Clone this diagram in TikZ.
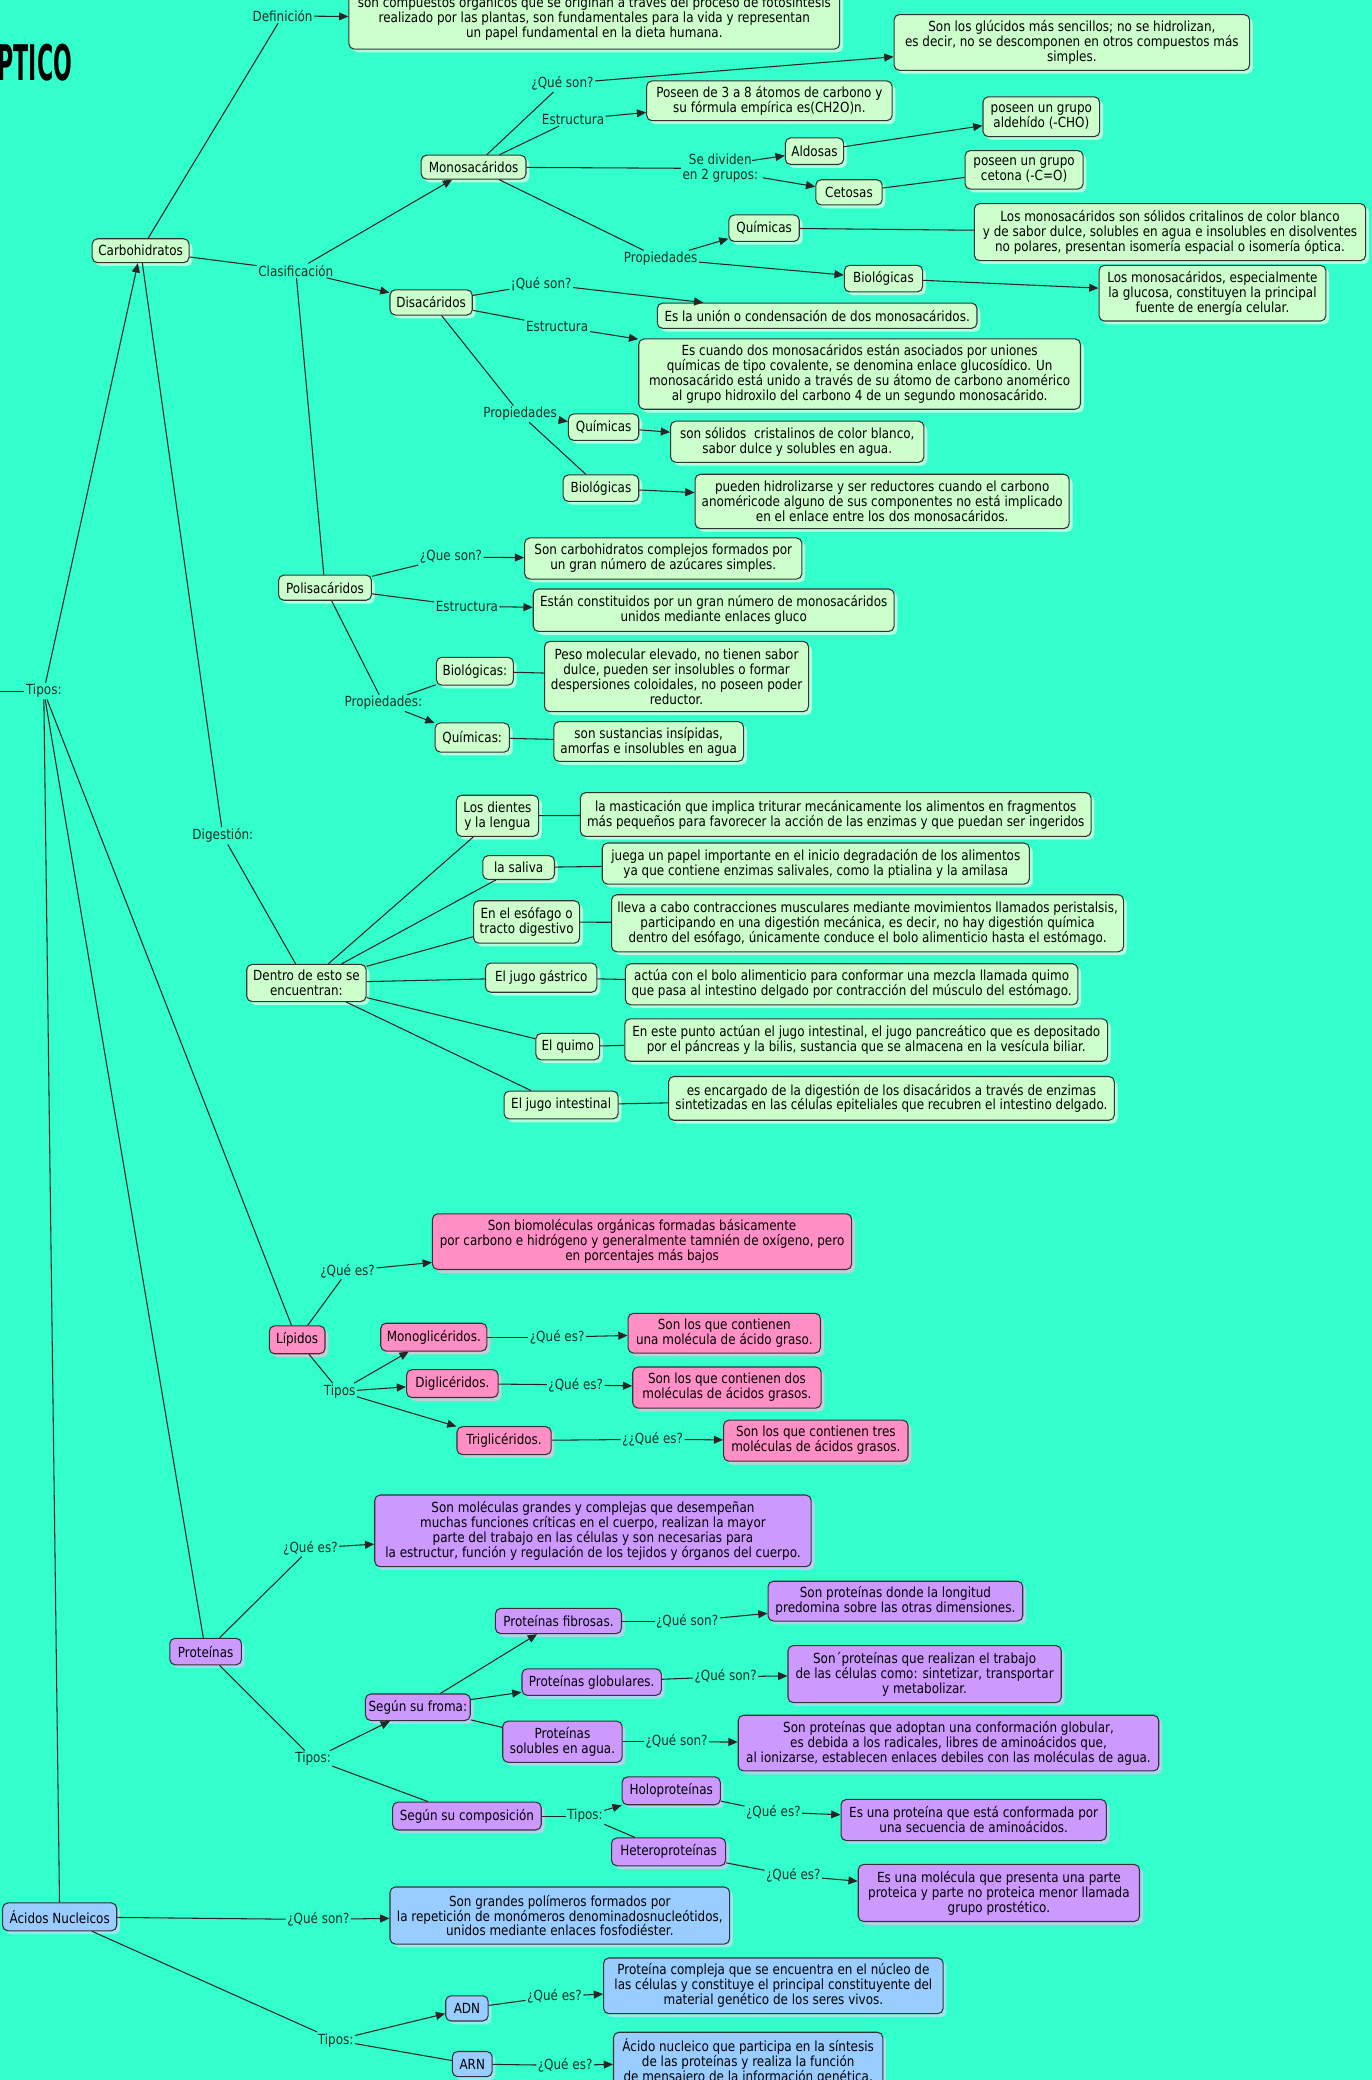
\documentclass[tikz,border=0pt]{standalone}
\usepackage{fontspec}
\setmainfont{DejaVu Sans}[FakeStretch=0.86]
\newfontfamily\titlefont{DejaVu Sans}[FakeStretch=0.45]
\usetikzlibrary{arrows.meta,shadows}
\definecolor{bg}{HTML}{33FFCC}
\definecolor{gfill}{HTML}{CCFFCC}
\definecolor{pfill}{HTML}{FF8FC4}
\definecolor{vfill}{HTML}{CC99FF}
\definecolor{bfill}{HTML}{99CCFF}
\definecolor{labc}{HTML}{17302A}
\begin{document}
\begin{tikzpicture}[x=1pt,y=-1pt,
 every node/.style={font=\fontsize{10.5}{11.3}\selectfont},
 boxbase/.style={draw=black!80, line width=0.8pt, rounded corners=4pt, align=center, inner sep=1pt, text=black},
 greenbox/.style={boxbase, fill=gfill, drop shadow={fill=gfill!50!white, opacity=0.7, shadow xshift=2.5pt, shadow yshift=-2.5pt}},
 pinkbox/.style={boxbase, fill=pfill, drop shadow={fill=pfill!60!white, opacity=0.7, shadow xshift=2.5pt, shadow yshift=-2.5pt}},
 violetbox/.style={boxbase, fill=vfill, drop shadow={fill=vfill!60!white, opacity=0.7, shadow xshift=2.5pt, shadow yshift=-2.5pt}},
 bluebox/.style={boxbase, fill=bfill, drop shadow={fill=bfill!60!white, opacity=0.7, shadow xshift=2.5pt, shadow yshift=-2.5pt}},
 lab/.style={text=labc, inner sep=1pt, align=center},
 con/.style={draw=black!85, line width=0.8pt},
 arr/.style={con, -{Triangle[length=7pt,width=6pt]}},
 sz/.style 2 args={minimum width=#1, minimum height=#2},
]
\useasboundingbox[fill=bg] (0,0) rectangle (1034,1568);

\node[anchor=west, inner sep=0pt, font=\titlefont\bfseries\fontsize{37}{37}\selectfont] (title) at (-2,47) {PTICO};

% ---------- Carbohidratos ----------
\node[greenbox, sz={73}{18}] (carb) at (106,189) {Carbohidratos};
\node[greenbox, sz={370}{46}] (def) at (448,14) {son compuestos orgánicos que se originan a través del proceso de fotosíntesis\\realizado por las plantas, son fundamentales para la vida y representan\\un papel fundamental en la dieta humana.};
\node[lab] (deflab) at (213,12) {Definición};
\node[lab] (clas) at (223,204) {Clasificación};

\node[greenbox, sz={79}{18}] (mono) at (357,126) {Monosacáridos};
\node[lab] (q1) at (424,63) {¿Qué son?};
\node[greenbox, sz={268}{42}] (glbox) at (808,32) {Son los glúcidos más sencillos; no se hidrolizan,\\es decir, no se descomponen en otros compuestos más\\simples.};
\node[lab] (est1) at (432,90) {Estructura};
\node[greenbox, sz={185}{30}] (posbox) at (580,76) {Poseen de 3 a 8 átomos de carbono y\\su fórmula empírica es(CH2O)n.};
\node[lab] (div) at (543,127) {Se dividen\\en 2 grupos:};
\coordinate (divA) at (567,121);
\coordinate (divB) at (575,134);
\node[greenbox, sz={44}{20}] (aldo) at (614,114) {Aldosas};
\node[greenbox, sz={50}{19}] (ceto) at (640,145) {Cetosas};
\node[greenbox, sz={88}{30}] (aldbox) at (785,88) {poseen un grupo\\aldehído (-CHO)};
\node[greenbox, sz={89}{29}] (cetbox) at (772,128) {poseen un grupo\\cetona (-C=O)};
\node[lab] (prop1) at (498,195) {Propiedades};
\node[greenbox, sz={53}{20}] (qui1) at (576,172) {Químicas};
\node[greenbox, sz={295}{43}] (quibox1) at (882,175) {Los monosacáridos son sólidos critalinos de color blanco\\y de sabor dulce, solubles en agua e insolubles en disolventes\\no polares, presentan isomería espacial o isomería óptica.};
\node[greenbox, sz={59}{20}] (bio1) at (666,210) {Biológicas};
\node[greenbox, sz={171}{42}] (biobox1) at (914,221) {Los monosacáridos, especialmente\\la glucosa, constituyen la principal\\fuente de energía celular.};

\node[greenbox, sz={62}{19}] (disa) at (325,228) {Disacáridos};
\node[lab] (q2) at (408,214) {¡Qué son?};
\node[greenbox, sz={241}{19}] (unionbox) at (616,238) {Es la unión o condensación de dos monosacáridos.};
\node[lab] (est2) at (420,246) {Estructura};
\node[greenbox, sz={333}{53}] (estbox2) at (648,282) {Es cuando dos monosacáridos están asociados por uniones\\químicas de tipo covalente, se denomina enlace glucosídico. Un\\monosacárido está unido a través de su átomo de carbono anomérico\\al grupo hidroxilo del carbono 4 de un segundo monosacárido.};
\node[lab] (prop2) at (392,312) {Propiedades};
\node[greenbox, sz={53}{20}] (qui2) at (455,322) {Químicas};
\node[greenbox, sz={191}{31}] (quibox2) at (601,333) {son sólidos\ \ cristalinos de color blanco,\\sabor dulce y solubles en agua.};
\node[greenbox, sz={57}{20}] (bio2) at (453,368) {Biológicas};
\node[greenbox, sz={282}{41}] (biobox2) at (665,378) {pueden hidrolizarse y ser reductores cuando el carbono\\anoméricode alguno de sus componentes no está implicado\\en el enlace entre los dos monosacáridos.};

\node[greenbox, sz={70}{19}] (poli) at (245,443) {Polisacáridos};
\node[lab] (q3) at (340,420) {¿Que son?};
\node[greenbox, sz={209}{31}] (pbox1) at (500,421) {Son carbohidratos complejos formados por\\un gran número de azúcares simples.};
\node[lab] (est3) at (352,457) {Estructura};
\node[greenbox, sz={272}{32}] (pbox2) at (538,460) {Están constituidos por un gran número de monosacáridos\\unidos mediante enlaces gluco};
\node[lab] (prop3) at (289,530) {Propiedades:};
\node[greenbox, sz={58}{21}] (bio3) at (358,506) {Biológicas:};
\node[greenbox, sz={199}{53}] (biobox3) at (510,510) {Peso molecular elevado, no tienen sabor\\dulce, pueden ser insolubles o formar\\despersiones coloidales, no poseen poder\\reductor.};
\node[greenbox, sz={56}{22}] (qui3) at (356,556) {Químicas:};
\node[greenbox, sz={143}{30}] (quibox3) at (489,559) {son sustancias insípidas,\\amorfas e insolubles en agua};

% ---------- Digestion ----------
\node[lab] (dig) at (168,630) {Digestión:};
\node[greenbox, sz={90}{28}] (dentro) at (231,741) {Dentro de esto se\\encuentran:};
\node[greenbox, sz={62}{31}] (dien) at (375,615) {Los dientes\\y la lengua};
\node[greenbox, sz={54}{18}] (sali) at (391,654) {la saliva};
\node[greenbox, sz={80}{32}] (esof) at (397,695) {En el esófago o\\tracto digestivo};
\node[greenbox, sz={84}{22}] (gast) at (408,737) {El jugo gástrico};
\node[greenbox, sz={48}{20}] (quim) at (428,789) {El quimo};
\node[greenbox, sz={86}{21}] (inte) at (423,833) {El jugo intestinal};
\node[greenbox, sz={385}{33}] (d1) at (630,614) {la masticación que implica triturar mecánicamente los alimentos en fragmentos\\más pequeños para favorecer la acción de las enzimas y que puedan ser ingeridos};
\node[greenbox, sz={322}{31}] (d2) at (615,651) {juega un papel importante en el inicio degradación de los alimentos\\ya que contiene enzimas salivales, como la ptialina y la amilasa};
\node[greenbox, sz={386}{43}] (d3) at (654,696) {lleva a cabo contracciones musculares mediante movimientos llamados peristalsis,\\participando en una digestión mecánica, es decir, no hay digestión química\\dentro del esófago, únicamente conduce el bolo alimenticio hasta el estómago.};
\node[greenbox, sz={341}{31}] (d4) at (642,742) {actúa con el bolo alimenticio para conformar una mezcla llamada quimo\\que pasa al intestino delgado por contracción del músculo del estómago.};
\node[greenbox, sz={364}{32}] (d5) at (653,784) {En este punto actúan el jugo intestinal, el jugo pancreático que es depositado\\por el páncreas y la bilis, sustancia que se almacena en la vesícula biliar.};
\node[greenbox, sz={336}{33}] (d6) at (672,828) {es encargado de la digestión de los disacáridos a través de enzimas\\sintetizadas en las células epiteliales que recubren el intestino delgado.};

% ---------- Tipos (root) ----------
\node[lab] (tipos) at (33,521) {Tipos:};
\coordinate (lft) at (0,521);

% ---------- Lipidos ----------
\node[pinkbox, sz={42}{21}] (lip) at (224,1010) {Lípidos};
\node[lab] (lq) at (262,958) {¿Qué es?};
\node[pinkbox, sz={316}{42}] (lbox) at (484,936) {Son biomoléculas orgánicas formadas básicamente\\por carbono e hidrógeno y generalmente tamnién de oxígeno, pero\\en porcentajes más bajos};
\node[lab] (ltipos) at (256,1049) {Tipos};
\node[pinkbox, sz={80}{21}] (mong) at (327,1008) {Monoglicéridos.};
\node[pinkbox, sz={69}{21}] (dig2) at (341,1043) {Diglicéridos.};
\node[pinkbox, sz={71}{21}] (trig) at (380,1086) {Triglicéridos.};
\node[lab] (lq1) at (420,1008) {¿Qué es?};
\node[lab] (lq2) at (434,1044) {¿Qué es?};
\node[lab] (lq3) at (492,1085) {¿¿Qué es?};
\node[pinkbox, sz={145}{30}] (lb1) at (546,1005) {Son los que contienen\\una molécula de ácido graso.};
\node[pinkbox, sz={142}{31}] (lb2) at (548,1046) {Son los que contienen dos\\moléculas de ácidos grasos.};
\node[pinkbox, sz={139}{31}] (lb3) at (615,1086) {Son los que contienen tres\\moléculas de ácidos grasos.};

% ---------- Proteinas ----------
\node[violetbox, sz={54}{20}] (prot) at (155,1245) {Proteínas};
\node[lab] (pq) at (234,1167) {¿Qué es?};
\node[violetbox, sz={329}{54}] (pdef) at (447,1154) {Son moléculas grandes y complejas que desempeñan\\muchas funciones críticas en el cuerpo, realizan la mayor\\parte del trabajo en las células y son necesarias para\\la estructur, función y regulación de los tejidos y órganos del cuerpo.};
\node[lab] (ptipos) at (236,1326) {Tipos:};
\node[violetbox, sz={79}{20}] (forma) at (315,1287) {Según su froma:};
\node[violetbox, sz={112}{21}] (comp) at (352,1369) {Según su composición};
\node[violetbox, sz={95}{19}] (fib) at (421,1222) {Proteínas fibrosas.};
\node[violetbox, sz={105}{20}] (glob) at (446,1268) {Proteínas globulares.};
\node[violetbox, sz={90}{31}] (sol) at (424,1313) {Proteínas\\solubles en agua.};
\node[lab] (fq) at (518,1222) {¿Qué son?};
\node[lab] (gq) at (547,1264) {¿Qué son?};
\node[lab] (sq) at (510,1313) {¿Qué son?};
\node[violetbox, sz={192}{30}] (fbox) at (675,1207) {Son proteínas donde la longitud\\predomina sobre las otras dimensiones.};
\node[violetbox, sz={206}{43}] (gbox) at (697,1262) {Son´proteínas que realizan el trabajo\\de las células como: sintetizar, transportar\\y metabolizar.};
\node[violetbox, sz={317}{42}] (sbox) at (715,1314) {Son proteínas que adoptan una conformación globular,\\es debida a los radicales, libres de aminoácidos que,\\al ionizarse, establecen enlaces debiles con las moléculas de agua.};
\node[lab] (ctipos) at (441,1369) {Tipos:};
\node[violetbox, sz={74}{21}] (holo) at (506,1350) {Holoproteínas};
\node[violetbox, sz={86}{21}] (hete) at (504,1396) {Heteroproteínas};
\node[lab] (hq) at (583,1366) {¿Qué es?};
\node[lab] (heq) at (598,1414) {¿Qué es?};
\node[violetbox, sz={200}{31}] (hbox) at (734,1372) {Es una proteína que está conformada por\\una secuencia de aminoácidos.};
\node[violetbox, sz={212}{43}] (hebox) at (753,1427) {Es una molécula que presenta una parte\\proteica y parte no proteica menor llamada\\grupo prostético.};

% ---------- Acidos nucleicos ----------
\node[bluebox, sz={86}{21}] (acid) at (45,1445) {Ácidos Nucleicos};
\node[lab] (aq) at (240,1447) {¿Qué son?};
\node[bluebox, sz={256}{43}] (abox) at (422,1444) {Son grandes polímeros formados por\\la repetición de monómeros denominadosnucleótidos,\\unidos mediante enlaces fosfodiéster.};
\node[lab] (atipos) at (253,1538) {Tipos:};
\node[bluebox, sz={32}{19}] (adn) at (352,1514) {ADN};
\node[bluebox, sz={30}{19}] (arn) at (356,1556) {ARN};
\node[lab] (adq) at (418,1505) {¿Qué es?};
\node[lab] (arq) at (426,1557) {¿Qué es?};
\node[bluebox, sz={256}{42}] (adnbox) at (583,1497) {Proteína compleja que se encuentra en el núcleo de\\las células y constituye el principal constituyente del\\material genético de los seres vivos.};
\node[bluebox, sz={203}{44}] (arnbox) at (564,1554) {Ácido nucleico que participa en la síntesis\\de las proteínas y realiza la función\\de mensajero de la información genética.};

% ---------- connectors ----------
\draw[con] (lft) -- (tipos);
\draw[arr] (tipos) -- (carb);
\draw[con] (tipos) -- (lip);
\draw[con] (tipos) -- (prot);
\draw[con] (tipos) -- (acid);

\draw[con] (carb) -- (deflab);
\draw[arr] (deflab) -- (def);
\draw[con] (carb) -- (clas);
\draw[arr] (clas) -- (mono);
\draw[arr] (clas) -- (disa);
\draw[con] (clas) -- (poli);

\draw[con] (mono) -- (q1);
\draw[arr] (q1) -- (glbox);
\draw[con] (mono) -- (est1);
\draw[arr] (est1) -- (posbox);
\draw[con] (mono) -- (div);
\draw[arr] (divA) -- (aldo);
\draw[arr] (divB) -- (ceto);
\draw[arr] (aldo) -- (aldbox);
\draw[con] (ceto) -- (cetbox);
\draw[con] (mono) -- (prop1);
\draw[arr] (prop1) -- (qui1);
\draw[arr] (prop1) -- (bio1);
\draw[con] (qui1) -- (quibox1);
\draw[arr] (bio1) -- (biobox1);

\draw[con] (disa) -- (q2);
\draw[arr] (q2) -- (unionbox);
\draw[con] (disa) -- (est2);
\draw[arr] (est2) -- (estbox2);
\draw[con] (disa) -- (prop2);
\draw[con] (prop2) -- (bio2);
\draw[arr] (prop2) -- (qui2);
\draw[arr] (qui2) -- (quibox2);
\draw[arr] (bio2) -- (biobox2);

\draw[con] (poli) -- (q3);
\draw[arr] (q3) -- (pbox1);
\draw[con] (poli) -- (est3);
\draw[arr] (est3) -- (pbox2);
\draw[con] (poli) -- (prop3);
\draw[con] (prop3) -- (bio3);
\draw[arr] (prop3) -- (qui3);
\draw[con] (bio3) -- (biobox3);
\draw[con] (qui3) -- (quibox3);

\draw[con] (carb) -- (dig);
\draw[con] (dig) -- (dentro);
\draw[con] (dentro) -- (dien);
\draw[con] (dentro) -- (sali);
\draw[con] (dentro) -- (esof);
\draw[con] (dentro) -- (gast);
\draw[con] (dentro) -- (quim);
\draw[con] (dentro) -- (inte);
\draw[con] (dien) -- (d1);
\draw[con] (sali) -- (d2);
\draw[con] (esof) -- (d3);
\draw[con] (gast) -- (d4);
\draw[con] (quim) -- (d5);
\draw[con] (inte) -- (d6);

\draw[con] (lip) -- (lq);
\draw[arr] (lq) -- (lbox);
\draw[con] (lip) -- (ltipos);
\draw[arr] (ltipos) -- (mong);
\draw[arr] (ltipos) -- (dig2);
\draw[arr] (ltipos) -- (trig);
\draw[con] (mong) -- (lq1);
\draw[arr] (lq1) -- (lb1);
\draw[con] (dig2) -- (lq2);
\draw[arr] (lq2) -- (lb2);
\draw[con] (trig) -- (lq3);
\draw[arr] (lq3) -- (lb3);

\draw[con] (prot) -- (pq);
\draw[arr] (pq) -- (pdef);
\draw[con] (prot) -- (ptipos);
\draw[arr] (ptipos) -- (forma);
\draw[con] (ptipos) -- (comp);
\draw[arr] (forma) -- (fib);
\draw[arr] (forma) -- (glob);
\draw[con] (forma) -- (sol);
\draw[con] (fib) -- (fq);
\draw[arr] (fq) -- (fbox);
\draw[con] (glob) -- (gq);
\draw[arr] (gq) -- (gbox);
\draw[con] (sol) -- (sq);
\draw[arr] (sq) -- (sbox);
\draw[con] (comp) -- (ctipos);
\draw[arr] (ctipos) -- (holo);
\draw[con] (ctipos) -- (hete);
\draw[con] (holo) -- (hq);
\draw[arr] (hq) -- (hbox);
\draw[con] (hete) -- (heq);
\draw[arr] (heq) -- (hebox);

\draw[con] (acid) -- (aq);
\draw[arr] (aq) -- (abox);
\draw[con] (acid) -- (atipos);
\draw[arr] (atipos) -- (adn);
\draw[con] (atipos) -- (arn);
\draw[con] (adn) -- (adq);
\draw[arr] (adq) -- (adnbox);
\draw[con] (arn) -- (arq);
\draw[arr] (arq) -- (arnbox);
\end{tikzpicture}
\end{document}
